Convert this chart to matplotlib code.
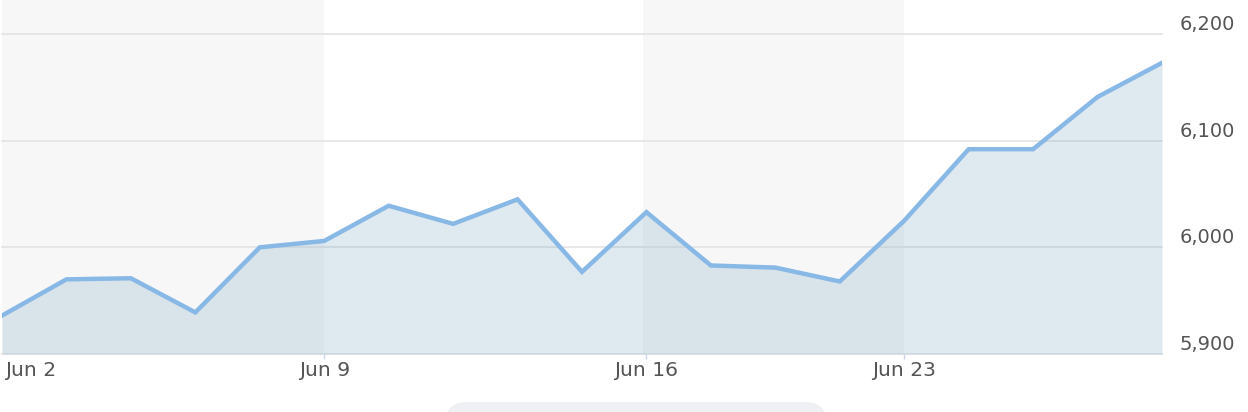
import matplotlib

matplotlib.use("Agg")
import matplotlib.pyplot as plt
from matplotlib.patches import FancyBboxPatch
from matplotlib.ticker import FuncFormatter
from matplotlib.transforms import ScaledTranslation

# Trading days, June (weekends and the 19th skipped)
DATES = [
    "Jun 2", "Jun 3", "Jun 4", "Jun 5", "Jun 6",
    "Jun 9", "Jun 10", "Jun 11", "Jun 12", "Jun 13",
    "Jun 16", "Jun 17", "Jun 18", "Jun 20",
    "Jun 23", "Jun 24", "Jun 25", "Jun 26", "Jun 27",
]
CLOSE = [
    5936, 5970, 5971, 5939, 6000,
    6006, 6039, 6022, 6045, 5977,
    6033, 5983, 5981, 5968,
    6025, 6092, 6092, 6141, 6173,
]
TICK_LABELS = ["Jun 2", "Jun 9", "Jun 16", "Jun 23"]
Y_TICKS = [5900, 6000, 6100, 6200]

LINE = "#88b8e6"
FILL = "#83abc7"
BAND = "#f7f7f7"
GRID = "#e3e3e3"
TEXT = "#555555"

W, H = 1248, 412
fig = plt.figure(figsize=(W / 100, H / 100), dpi=100)
ax = fig.add_axes([2 / W, 58 / H, 1160 / W, 354 / H])

x = list(range(len(DATES)))
tick_pos = [DATES.index(lbl) for lbl in TICK_LABELS]

# alternating weekly bands
edges = tick_pos + [len(DATES) - 1]
for i in range(len(edges) - 1):
    if i % 2 == 0:
        ax.axvspan(edges[i] - 0.05, edges[i + 1], color=BAND, lw=0, zorder=0)

for v in Y_TICKS:
    ax.axhline(v, color=GRID, lw=1.2, zorder=1, clip_on=False)

ax.fill_between(x, CLOSE, Y_TICKS[0], color=FILL, alpha=0.25, lw=0, zorder=2)
ax.plot(x, CLOSE, color=LINE, lw=3.2, solid_joinstyle="miter", zorder=3)

ax.set_xlim(0, len(DATES) - 1)
ax.set_ylim(5900, 6231.9)

ax.set_xticks(tick_pos)
ax.set_xticklabels(TICK_LABELS)
ax.tick_params(axis="x", length=3.6, width=1, color="#ccd6eb", pad=1.5,
               labelsize=14.6, labelcolor=TEXT)
first = ax.get_xticklabels()[0]
first.set_horizontalalignment("left")
first.set_transform(first.get_transform() + ScaledTranslation(0.03, 0, fig.dpi_scale_trans))
ax.xaxis.get_major_ticks()[0].tick1line.set_visible(False)

ax.yaxis.tick_right()
ax.set_yticks(Y_TICKS)
ax.yaxis.set_major_formatter(FuncFormatter(lambda v, _: f"{v:,.0f}"))
ax.tick_params(axis="y", length=0, pad=12.5, labelsize=14, labelcolor=TEXT)
for lbl in ax.get_yticklabels():
    lbl.set_verticalalignment("bottom")

for s in ax.spines.values():
    s.set_visible(False)

# navigator handle peeking in at the bottom
fig.patches.append(FancyBboxPatch(
    (4.45, -0.3), 3.82, 0.4,
    boxstyle="round,pad=0,rounding_size=0.22",
    transform=fig.dpi_scale_trans, facecolor="#eef0f4", edgecolor="none",
))

fig.savefig("out.png", dpi=100)
